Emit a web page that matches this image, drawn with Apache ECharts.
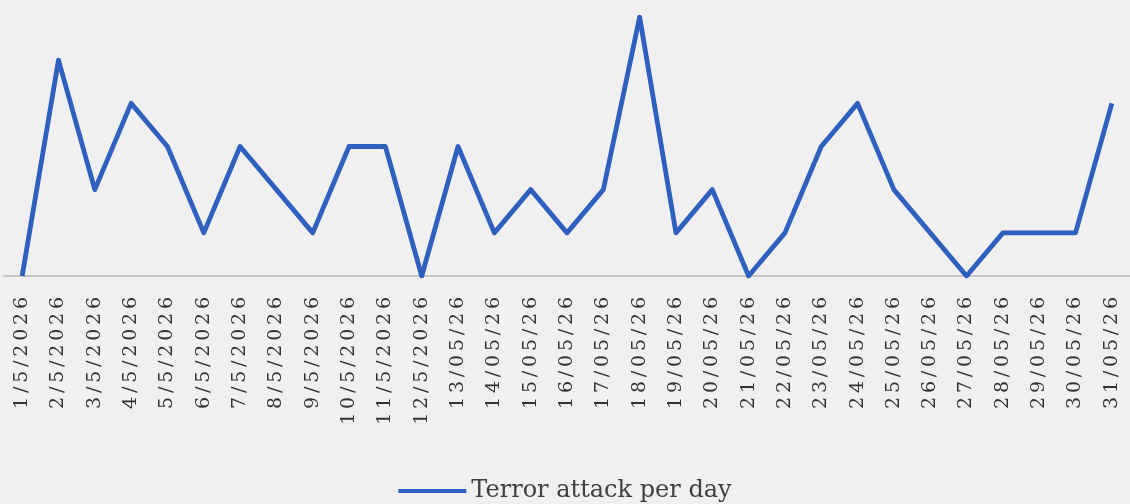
<!DOCTYPE html>
<html>
<head>
<meta charset="utf-8">
<script src="https://cdn.jsdelivr.net/npm/echarts@6/dist/echarts.min.js"></script>
<style>
  html, body { margin: 0; padding: 0; background: #f0f0f0; }
  #chart { width: 1130px; height: 504px; }
</style>
</head>
<body>
<div id="chart"></div>
<script>
// x-axis dates
const days = [
  '1/5/2026', '2/5/2026', '3/5/2026', '4/5/2026', '5/5/2026', '6/5/2026',
  '7/5/2026', '8/5/2026', '9/5/2026', '10/5/2026', '11/5/2026', '12/5/2026',
  '13/05/26', '14/05/26', '15/05/26', '16/05/26', '17/05/26', '18/05/26',
  '19/05/26', '20/05/26', '21/05/26', '22/05/26', '23/05/26', '24/05/26',
  '25/05/26', '26/05/26', '27/05/26', '28/05/26', '29/05/26', '30/05/26',
  '31/05/26'
];
// attacks per day
const attacks = [0, 5, 2, 4, 3, 1, 3, 2, 1, 3, 3, 0, 3, 1, 2, 1, 2, 6, 1, 2, 0, 1, 3, 4, 2, 1, 0, 1, 1, 1, 4];
const seriesName = 'Terror attack per day';

let myChart = echarts.init(document.getElementById('chart'));
myChart.setOption({
    backgroundColor: '#f0f0f0',
    animation: false,
    grid: { left: 4, right: -4, top: 17, bottom: 228 },
    legend: {
        bottom: -4,
        left: 'center',
        itemWidth: 68,
        itemHeight: 14,
        itemGap: 9,
        textStyle: { fontFamily: 'DejaVu Serif', fontSize: 24, color: '#404040' },
        data: [{ name: seriesName, icon: 'path://M0,5.5 L68,5.5 L68,9.5 L0,9.5 Z' }]
    },
    xAxis: {
        type: 'category',
        data: days,
        boundaryGap: true,
        axisLine: { lineStyle: { color: '#b8b8b8', width: 1.5 } },
        axisTick: { show: false },
        axisLabel: {
            rotate: 90,
            interval: 0,
            margin: 21,
            fontFamily: 'DejaVu Serif',
            fontSize: 19,
            color: '#333',
            // wide, evenly spaced glyphs like the original
            formatter: function (v) { return v.split('').join('\u2009'); }
        }
    },
    yAxis: {
        type: 'value',
        min: 0,
        max: 6,
        interval: 1,
        show: false,
        splitLine: { show: false }
    },
    series: [{
        name: seriesName,
        type: 'line',
        data: attacks,
        symbol: 'none',
        lineStyle: { color: '#2f5fbf', width: 4.8, join: 'round' },
        itemStyle: { color: '#2f5fbf' }
    }]
});
</script>
</body>
</html>
